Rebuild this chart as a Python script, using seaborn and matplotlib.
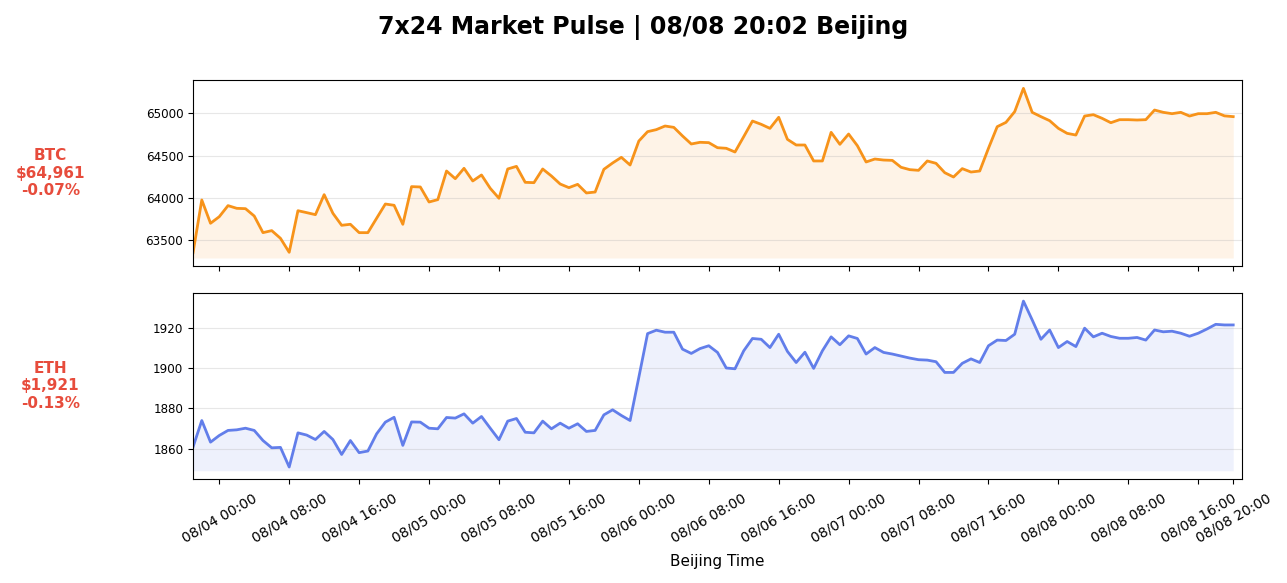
import numpy as np
import pandas as pd
import matplotlib
matplotlib.use('Agg')
import matplotlib.pyplot as plt
import matplotlib.dates as mdates
import seaborn as sns

# hourly closes, Beijing time, 08/03 21:00 -> 08/08 20:00
start_time = '2024-08-03 21:00'
btc_prices = [
    63350, 63974, 63698, 63776, 63907, 63875, 63871, 63784, 63587, 63611,
    63520, 63354, 63847, 63824, 63800, 64037, 63816, 63674, 63686, 63587,
    63587, 63757, 63926, 63911, 63686, 64132, 64128, 63950, 63978, 64317,
    64226, 64349, 64199, 64270, 64112, 63994, 64341, 64372, 64183, 64179,
    64341, 64258, 64163, 64120, 64159, 64057, 64068, 64337, 64412, 64479,
    64388, 64672, 64783, 64807, 64850, 64834, 64732, 64637, 64657, 64653,
    64593, 64586, 64542, 64724, 64909, 64870, 64822, 64953, 64692, 64625,
    64625, 64436, 64436, 64775, 64633, 64755, 64617, 64424, 64459, 64447,
    64443, 64361, 64333, 64325, 64436, 64408, 64297, 64246, 64345, 64305,
    64317, 64586, 64842, 64893, 65020, 65296, 65012, 64961, 64913, 64822,
    64763, 64743, 64968, 64984, 64941, 64889, 64925, 64925, 64921, 64925,
    65039, 65012, 64996, 65012, 64968, 64996, 64996, 65012, 64970, 64961,
]
eth_prices = [
    1860.9, 1874.0, 1863.3, 1866.6, 1869.1, 1869.4, 1870.2, 1869.1, 1864.1, 1860.5,
    1860.7, 1851.0, 1867.9, 1866.8, 1864.6, 1868.6, 1864.6, 1857.2, 1864.1, 1858.1,
    1858.9, 1867.4, 1873.2, 1875.6, 1861.7, 1873.3, 1873.2, 1870.2, 1869.9, 1875.5,
    1875.2, 1877.3, 1872.7, 1876.0, 1870.2, 1864.5, 1873.7, 1875.0, 1868.2, 1867.9,
    1873.7, 1869.9, 1872.7, 1870.2, 1872.4, 1868.6, 1869.1, 1876.8, 1879.3, 1876.5,
    1874.0, 1895.4, 1917.0, 1918.7, 1917.7, 1917.7, 1909.3, 1907.2, 1909.6, 1911.0,
    1907.7, 1900.0, 1899.6, 1908.5, 1914.6, 1914.2, 1910.1, 1916.7, 1908.2, 1902.7,
    1907.8, 1899.8, 1908.5, 1915.4, 1911.5, 1915.9, 1914.6, 1906.9, 1910.1, 1907.7,
    1906.9, 1905.9, 1904.9, 1904.1, 1903.9, 1903.1, 1897.8, 1897.8, 1902.3, 1904.5,
    1902.7, 1911.0, 1913.8, 1913.6, 1916.7, 1933.1, 1923.8, 1914.2, 1918.8, 1910.1,
    1913.1, 1910.6, 1919.7, 1915.4, 1917.2, 1915.6, 1914.7, 1914.7, 1915.1, 1913.8,
    1918.8, 1917.9, 1918.2, 1917.2, 1915.7, 1917.2, 1919.3, 1921.6, 1921.3, 1921.3,
]
symbols = ['BTC', 'ETH']
changes = ['-0.07%', '-0.13%']
line_colors = ['#F7931A', '#627EEA']
title = '7x24 Market Pulse | 08/08 20:02 Beijing'

times = pd.date_range(start_time, periods=len(btc_prices), freq='h')
tick_times = list(pd.date_range('2024-08-04 00:00', '2024-08-08 16:00', freq='8h')) + [times[-1]]

fig, axes = plt.subplots(2, 1, figsize=(12.87, 5.83), dpi=100, sharex=True)
fig.subplots_adjust(left=0.150, right=0.965, top=0.863, bottom=0.178, hspace=0.14)

for ax, sym, prices, chg, col in zip(axes, symbols, [btc_prices, eth_prices], changes, line_colors):
    prices = np.array(prices)
    sns.lineplot(x=times, y=prices, ax=ax, color=col, linewidth=2)
    ax.fill_between(times, prices, prices.min() * 0.999, color=col, alpha=0.1, linewidth=0)
    ax.grid(axis='y', alpha=0.3)
    ax.set_ylabel('')
    ax.tick_params(axis='y', labelsize=8.6)
    ax.text(-0.136, 0.5, f'{sym}\n${prices[-1]:,.0f}\n{chg}', transform=ax.transAxes,
            ha='center', va='center', fontsize=11, fontweight='bold', color='#e74c3c')

axes[1].set_xlim(times[0], times[-1] + pd.Timedelta(hours=1))
axes[1].set_xticks(tick_times)
axes[1].xaxis.set_major_formatter(mdates.DateFormatter('%m/%d %H:%M'))
axes[1].tick_params(axis='x', pad=5)
plt.setp(axes[1].get_xticklabels(), rotation=30, ha='center', fontsize=10)
axes[1].set_xlabel('Beijing Time', fontsize=11, labelpad=6)

fig.suptitle(title, fontsize=17, fontweight='bold', y=0.975)
plt.savefig('out.png', dpi=100)
plt.close()
